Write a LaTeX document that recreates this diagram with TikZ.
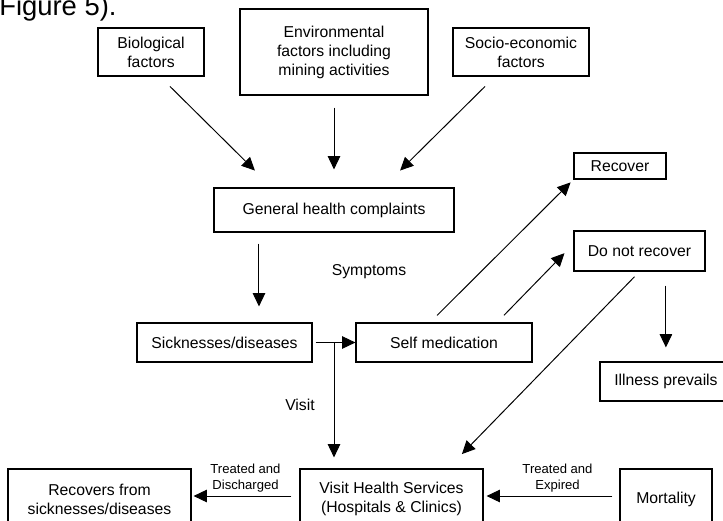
\documentclass[tikz,border=0pt]{standalone}
\usepackage{fontspec}
\setmainfont{Liberation Sans}
\usetikzlibrary{arrows.meta, positioning, calc}

\tikzset{
  box/.style={draw, line width=0.8pt, align=center, inner sep=2pt, font=\fontsize{11.2}{13.5}\selectfont},
  lbl/.style={align=center, inner sep=1pt, font=\fontsize{9.3}{11.4}\selectfont},
  txt/.style={align=center, font=\fontsize{11.2}{13.5}\selectfont},
  arr/.style={-{Triangle[length=0.33cm,width=0.31cm]}, line width=0.7pt},
}

\begin{document}
\begin{tikzpicture}[x=0.025cm, y=-0.025cm]
\clip (0,0) rectangle (723,520);
% cut caption line at the top
\node[anchor=base west, inner sep=0, font=\fontsize{19.5}{19.5}\selectfont] (fig) at (-1,15) {Figure 5).};

% causes
\node[box, minimum width=2.65cm, minimum height=1.2cm] (bio) at (151,52) {Biological\\factors};
\node[box, minimum width=4.7cm, minimum height=2.15cm] (env) at (334,52) {Environmental\\factors including\\mining activities};
\node[box, minimum width=3.4cm, minimum height=1.2cm] (soc) at (521,52) {Socio-economic\\factors};
\node[box, minimum width=6cm, minimum height=1.1cm] (ghc) at (334,210) {General health complaints};

% middle row
\node[box, minimum width=4.375cm, minimum height=0.975cm] (sick) at (224.5,342.5) {Sicknesses/diseases};
\node[box, minimum width=4.4cm, minimum height=0.975cm] (self) at (444,342.5) {Self medication};
\node[box, minimum width=2.3cm, minimum height=0.65cm] (rec) at (620,166) {Recover};
\node[box, minimum width=3.275cm, minimum height=1cm] (dnr) at (639.5,251) {Do not recover};
\node[box, minimum width=3.3cm, minimum height=0.975cm] (ill) at (666,381.5) {Illness prevails};

% bottom row
\node[box, minimum width=4.575cm, minimum height=1.5cm] (vhs) at (391.5,499) {Visit Health Services\\(Hospitals \& Clinics)};
\node[box, minimum width=4.575cm, minimum height=1.5cm] (rfs) at (99.5,499) {Recovers from\\sicknesses/diseases};
\node[box, minimum width=2.3cm, minimum height=1.5cm] (mort) at (666,499) {Mortality};

\node[txt] (sym) at (369,272) {Symptoms};
\node[txt] (visit) at (300,405) {Visit};

% arrows
\draw[arr, shorten <=0.35cm, shorten >=0.6cm] ([xshift=0.225cm]bio.south) -- ([xshift=-1.55cm]ghc.north);
\draw[arr, shorten <=0.3cm, shorten >=0.45cm] (env.south) -- (ghc.north);
\draw[arr, shorten <=0.35cm, shorten >=0.6cm] ([xshift=-0.65cm]soc.south) -- ([xshift=1.225cm]ghc.north);
\draw[arr, shorten <=0.275cm, shorten >=0.4cm] ([xshift=-1.875cm]ghc.south) -- ([xshift=-1.875cm]ghc.south |- sick.north);
\draw[arr, shorten <=0.075cm] (sick) -- (self);
\coordinate (split) at ($(sick.east)!0.5!(self.west)$);
\draw[arr, shorten >=0.275cm] (split) -- (split |- vhs.north);
\draw[arr, shorten <=0.25cm, shorten >=0.1cm] ([xshift=-0.35cm]self.north) -- (rec.south west);
\draw[arr, shorten <=0.25cm, shorten >=0.32cm] ([xshift=1.325cm]self.north) -- ([yshift=0.175cm]dnr.west);
\draw[arr, shorten <=0.18cm, shorten >=0.5cm] (dnr.south) -- ([xshift=1.41cm]vhs.north);
\draw[arr, shorten <=0.35cm, shorten >=0.35cm] ([xshift=0.66cm]dnr.south) -- ([xshift=0.66cm]dnr.south |- ill.north);
\draw[arr, shorten <=0.2cm, shorten >=0.05cm] ([yshift=0.075cm]vhs.west) -- node[lbl, above=1pt] (disc) {Treated and\\Discharged} ([yshift=0.075cm]rfs.east);
\draw[arr, shorten <=0.175cm, shorten >=0.075cm] ([yshift=0.075cm]mort.west) -- node[lbl, above=1pt, xshift=0.15cm] (exp) {Treated and\\Expired} ([yshift=0.075cm]vhs.east);
\end{tikzpicture}
\end{document}
